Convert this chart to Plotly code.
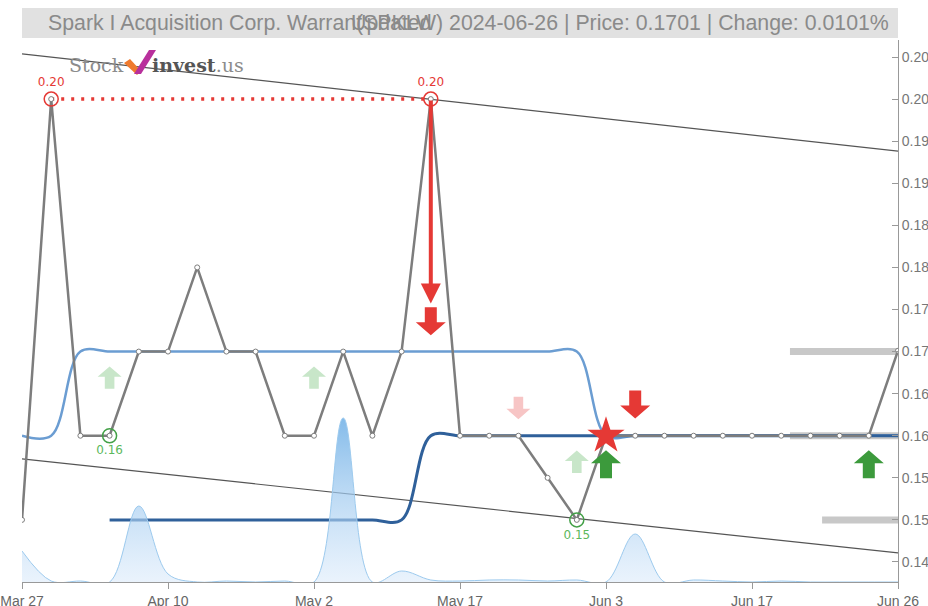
import plotly.graph_objects as go

# ---------------- data ----------------
tick_idx = [0, 5, 10, 15, 20, 25, 30]
tick_labels = ["Mar 27", "Apr 10", "May 2", "May 17", "Jun 3", "Jun 17", "Jun 26"]

prices = [0.15, 0.20, 0.16, 0.16, 0.17, 0.17, 0.18, 0.17, 0.17, 0.16,
          0.16, 0.17, 0.16, 0.17, 0.20, 0.16, 0.16, 0.16, 0.155, 0.15,
          0.16, 0.16, 0.16, 0.16, 0.16, 0.16, 0.16, 0.16, 0.16, 0.16, 0.1701]
ma_long = [0.16, 0.16] + [0.17] * 18 + [0.16] * 11
ma_short = [None] * 3 + [0.15] * 11 + [0.16] * 17
volume = [3100, 100, 100, 0, 7600, 800, 0, 100, 0, 100,
          0, 16400, 0, 1100, 200, 100, 200, 200, 100, 200,
          0, 4800, 0, 200, 100, 0, 100, 0, 0, 0, 0]

trend_x = [0, 30]
trend_upper = [0.20536, 0.19381]
trend_lower = [0.15726, 0.14607]

peak_idx = [1, 14]
peak_val = [0.20, 0.20]
low_idx = [3, 19]
low_val = [0.16, 0.15]

levels = [0.17, 0.16, 0.15]
level_start = [26.3, 26.3, 27.4]

buy_weak_idx = [3, 10, 19]
buy_weak_y = [0.1669, 0.1669, 0.1569]
sell_weak_idx = [17]
sell_weak_y = [0.1633]
buy_idx = [20, 29]
buy_y = [0.1566, 0.1566]
sell_idx = [21, 14]
sell_y = [0.1637, 0.1736]
star_idx = [20]
star_val = [0.16]
signal_from = (14, 0.20)
signal_to = (14, 0.1757)

y_ticks = [0.145, 0.150, 0.155, 0.160, 0.165, 0.170, 0.175,
           0.180, 0.185, 0.190, 0.195, 0.200, 0.205]

title_left = "Spark I Acquisition Corp. Warrant"
title_mid = "Updated"
title_right = "(SPKLW) 2024-06-26 | Price: 0.1701 | Change: 0.0101%"

# ---------------- styles ----------------
RED = "#e53935"
GREEN_LBL = "#5cb85c"
GRAY_LINE = "#7d7d7d"
W, H = 928, 606
ML, MR, MT, MB = 22, 30, 40, 24
PW, PH = W - ML - MR, H - MT - MB
YR = [0.14262, 0.20702]


def px_paper(px, py):
    return (px - ML) / PW, (H - MB - py) / PH


x = list(range(len(prices)))
fig = go.Figure()

# volume area
fig.add_trace(go.Scatter(
    x=x, y=volume, yaxis="y2", mode="lines", line=dict(color="#9ccaee", width=1, shape="spline"),
    fill="tozeroy",
    fillgradient=dict(type="vertical", colorscale=[[0, "rgba(215,232,250,0.5)"], [1, "rgba(110,175,230,0.85)"]]),
    hoverinfo="skip", showlegend=False))

# levels
for lv, st in zip(levels, level_start):
    fig.add_trace(go.Scatter(x=[st, x[-1]], y=[lv, lv], mode="lines",
                             line=dict(color="#c8c8c8", width=7), showlegend=False, hoverinfo="skip"))

# trend lines
fig.add_trace(go.Scatter(x=trend_x, y=trend_upper, mode="lines", line=dict(color="#555555", width=1.2),
                         showlegend=False, hoverinfo="skip"))
fig.add_trace(go.Scatter(x=trend_x, y=trend_lower, mode="lines", line=dict(color="#555555", width=1.2),
                         showlegend=False, hoverinfo="skip"))

# moving averages
fig.add_trace(go.Scatter(x=x, y=ma_long, mode="lines", line=dict(color="#6b9dd2", width=2.5, shape="spline"),
                         showlegend=False))
fig.add_trace(go.Scatter(x=x, y=ma_short, mode="lines", line=dict(color="#2f609a", width=3, shape="spline"),
                         showlegend=False))

# red dotted resistance
fig.add_trace(go.Scatter(x=peak_idx, y=peak_val, mode="lines",
                         line=dict(color=RED, width=3.5, dash="3px,7px"), showlegend=False))

# price
fig.add_trace(go.Scatter(x=x, y=prices, mode="lines+markers",
                         line=dict(color=GRAY_LINE, width=2.5),
                         marker=dict(size=5, color="white", line=dict(color=GRAY_LINE, width=1)),
                         showlegend=False))

# peak / low circles
fig.add_trace(go.Scatter(x=peak_idx, y=peak_val, mode="markers+text",
                         text=[f"{v:.2f}" for v in peak_val], textposition="top center",
                         textfont=dict(color=RED, size=12, family="DejaVu Sans"),
                         marker=dict(size=14, color="rgba(0,0,0,0)", line=dict(color=RED, width=1.5)),
                         showlegend=False))
fig.add_trace(go.Scatter(x=low_idx, y=low_val, mode="markers+text",
                         text=[f"{v:.2f}" for v in low_val], textposition="bottom center",
                         textfont=dict(color=GREEN_LBL, size=12, family="DejaVu Sans"),
                         marker=dict(size=14, color="rgba(0,0,0,0)", line=dict(color="#43a047", width=1.5)),
                         showlegend=False))

shapes = []


def arrow(xv, yv, up, s, color):
    pts = [(-6, 14), (6, 14), (6, -1), (15, -1), (0, -14), (-15, -1), (-6, -1)]
    if up:
        pts = [(a, -b) for a, b in pts]
    path = "M" + " L".join(f"{a * s:.1f},{b * s:.1f}" for a, b in pts) + " Z"
    return dict(type="path", xref="x", yref="y", xsizemode="pixel", ysizemode="pixel",
                xanchor=xv, yanchor=yv, path=path, fillcolor=color, line=dict(width=0), layer="above")


for xi, yi in zip(buy_weak_idx, buy_weak_y):
    shapes.append(arrow(xi, yi, True, 0.8, "#c8e6c9"))
for xi, yi in zip(sell_weak_idx, sell_weak_y):
    shapes.append(arrow(xi, yi, False, 0.8, "#f7c5c5"))
for xi, yi in zip(buy_idx, buy_y):
    shapes.append(arrow(xi, yi, True, 1.0, "#3c9a3c"))
for xi, yi in zip(sell_idx, sell_y):
    shapes.append(arrow(xi, yi, False, 1.0, RED))

# title box
bx0, by0 = px_paper(22, 38)
bx1, by1 = px_paper(898, 8)
shapes.append(dict(type="rect", xref="paper", yref="paper", x0=bx0, x1=bx1, y0=by0, y1=by1,
                   fillcolor="#e1e1e1", line=dict(width=0), layer="above"))

# logo mark
shapes.append(dict(type="path", xref="paper", yref="paper", xsizemode="pixel", ysizemode="pixel",
                   xanchor=0, yanchor=1, path="M102,-23 L108,-19 L119,-31 L115,-35 Z",
                   fillcolor="#ef7a2e", line=dict(width=0)))
shapes.append(dict(type="path", xref="paper", yref="paper", xsizemode="pixel", ysizemode="pixel",
                   xanchor=0, yanchor=1, path="M112,-34 L127,-10 L134,-10 L119,-34 Z",
                   fillcolor="#b8309c", line=dict(width=0)))

# star on top
fig.add_trace(go.Scatter(x=star_idx, y=star_val, mode="markers",
                         marker=dict(symbol="star", size=28, color=RED, line=dict(width=0)),
                         showlegend=False))

annotations = []
annotations.append(dict(x=signal_to[0], y=signal_to[1], ax=signal_from[0], ay=signal_from[1],
                        xref="x", yref="y", axref="x", ayref="y", text="", showarrow=True,
                        arrowhead=2, arrowsize=1, arrowwidth=4, arrowcolor=RED))

tf = dict(family="Liberation Sans, Arial, sans-serif", size=21.3, color="#8a8a8a")
tx, ty = px_paper(46, 23)
annotations.append(dict(x=tx, y=ty, xref="paper", yref="paper", xanchor="left", yanchor="middle",
                        text=title_left, showarrow=False, font=tf))
tx, ty = px_paper(349, 23)
annotations.append(dict(x=tx, y=ty, xref="paper", yref="paper", xanchor="left", yanchor="middle",
                        text=title_mid, showarrow=False, font=tf))
tx, ty = px_paper(891, 23)
annotations.append(dict(x=tx, y=ty, xref="paper", yref="paper", xanchor="right", yanchor="middle",
                        text=title_right, showarrow=False, font=tf))

lx, ly = px_paper(67, 65)
annotations.append(dict(x=lx, y=ly, xref="paper", yref="paper", xanchor="left", yanchor="middle",
                        text="Stock", showarrow=False,
                        font=dict(family="DejaVu Serif", size=19, color="#8c8c8c")))
lx, ly = px_paper(150, 65)
annotations.append(dict(x=lx, y=ly, xref="paper", yref="paper", xanchor="left", yanchor="middle",
                        text="<b>invest</b><span style='color:#8c8c8c'>.us</span>", showarrow=False,
                        font=dict(family="DejaVu Serif", size=19, color="#555555")))

fig.update_layout(
    width=W, height=H, margin=dict(l=ML, r=MR, t=MT, b=MB, autoexpand=False),
    paper_bgcolor="white", plot_bgcolor="white", showlegend=False,
    shapes=shapes, annotations=annotations,
    xaxis=dict(range=[0, 30], tickmode="array", tickvals=tick_idx, ticktext=tick_labels,
               automargin=False,
               showgrid=False, zeroline=False, showline=True, linecolor="#999999", linewidth=1,
               ticks="outside", ticklen=6, tickcolor="#999999",
               tickfont=dict(family="Liberation Sans, Arial, sans-serif", size=14, color="#666666")),
    yaxis=dict(range=YR, side="right", tickmode="array", automargin=False,
               tickvals=y_ticks, ticktext=[f"{v:.3f}" for v in y_ticks],
               showgrid=False, zeroline=False, showline=True, linecolor="#999999", linewidth=1,
               ticks="inside", ticklen=6, tickcolor="#999999",
               tickfont=dict(family="Liberation Sans, Arial, sans-serif", size=14, color="#777777")),
    yaxis2=dict(range=[0, 54200], overlaying="y", visible=False),
)

fig.write_html("out.html", config={"displayModeBar": False},
               post_script="document.body.style.margin='0';")
